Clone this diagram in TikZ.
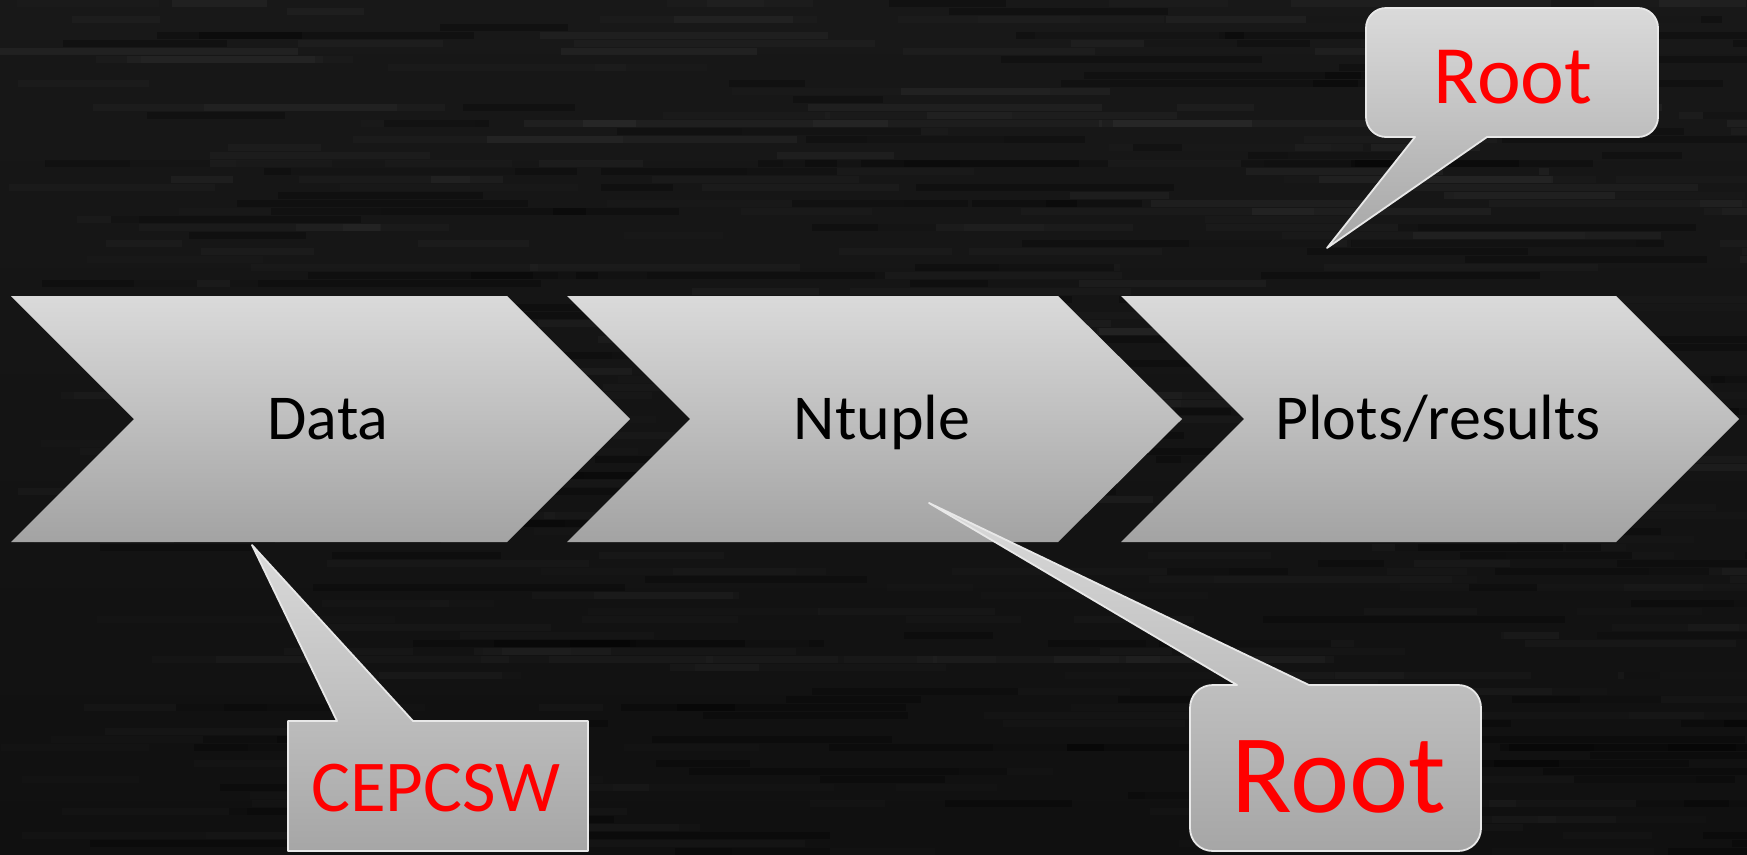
\documentclass[tikz,border=0pt]{standalone}
\usepackage{fontspec}
\setmainfont{Carlito}
\definecolor{bgtop}{RGB}{24,24,24}
\definecolor{bgbot}{RGB}{16,16,16}
\definecolor{chevtop}{RGB}{218,218,218}
\definecolor{chevbot}{RGB}{163,163,163}
\definecolor{calltop}{RGB}{218,218,218}
\definecolor{callbot}{RGB}{166,166,166}
\definecolor{callline}{RGB}{232,232,232}
\definecolor{labelred}{RGB}{255,0,0}
\tikzset{
  chevron/.style={top color=chevtop, bottom color=chevbot, draw=none},
  callout/.style={top color=calltop, bottom color=callbot, draw=callline, line width=1.8pt, line join=round},
  steptext/.style={anchor=base, inner sep=0pt, text=black, font=\fontsize{64}{70}\selectfont},
  calltext/.style={anchor=base, inner sep=0pt, text=labelred},
}
\begin{document}
\begin{tikzpicture}[x=1pt,y=-1pt]
\useasboundingbox (0,0) rectangle (1747,854);
% dark background with faint horizontal streaks
\shade[top color=bgtop, bottom color=bgbot] (0,0) rectangle (1747,854);
\pgfmathsetseed{11}
\foreach \i in {1,...,360}{
  \pgfmathsetmacro\sx{rnd*1747}
  \pgfmathsetmacro\sy{8*int(rnd*107)}
  \pgfmathsetmacro\sw{60+rnd*260}
  \pgfmathsetmacro\so{0.01+0.03*rnd*(1-\sy/1200)}
  \fill[white,opacity=\so] (\sx,\sy) rectangle ++(\sw,7);
}
\foreach \i in {1,...,200}{
  \pgfmathsetmacro\sx{rnd*1747}
  \pgfmathsetmacro\sy{8*int(rnd*107)}
  \pgfmathsetmacro\sw{60+rnd*260}
  \fill[black,opacity=0.25] (\sx,\sy) rectangle ++(\sw,7);
}
% process chevrons
\shade[chevron] (11,296) -- (507,296) -- (630,419) -- (507,542) -- (11,542) -- (134,419) -- cycle;
\shade[chevron] (567,296) -- (1058,296) -- (1182,419) -- (1058,542) -- (567,542) -- (690,419) -- cycle;
\shade[chevron] (1121,296) -- (1616,296) -- (1739,419) -- (1616,542) -- (1121,542) -- (1244,419) -- cycle;
\node[steptext] (data) at (328,439) {Data};
\node[steptext] (ntuple) at (882,439) {Ntuple};
\node[steptext] (plots) at (1438,439) {Plots/results};
% callout for the plots step
\shade[callout] (1327,248) -- (1487,137) -- (1638,137) .. controls (1649,137) and (1658,128) .. (1658,117)
  -- (1658,28) .. controls (1658,17) and (1649,8) .. (1638,8)
  -- (1386,8) .. controls (1375,8) and (1366,17) .. (1366,28)
  -- (1366,117) .. controls (1366,128) and (1375,137) .. (1386,137)
  -- (1415,137) -- cycle;
\node[calltext, font=\fontsize{83}{90}\selectfont] (rootA) at (1513,103) {Root};
% callout for the ntuple step
\shade[callout] (929,503) -- (1237,685) -- (1213,685) .. controls (1200,685) and (1190,695) .. (1190,708)
  -- (1190,828) .. controls (1190,841) and (1200,851) .. (1213,851)
  -- (1458,851) .. controls (1471,851) and (1481,841) .. (1481,828)
  -- (1481,708) .. controls (1481,695) and (1471,685) .. (1458,685)
  -- (1309,685) -- cycle;
\node[calltext, font=\fontsize{112}{120}\selectfont] (rootB) at (1339,812) {Root};
% callout for the data step
\shade[callout] (252,545) -- (413,721) -- (588,721) -- (588,851) -- (288,851) -- (288,721) -- (337,721) -- cycle;
\node[calltext, font=\fontsize{73}{80}\selectfont] (cepcsw) at (436,811) {CEPCSW};
\end{tikzpicture}
\end{document}
